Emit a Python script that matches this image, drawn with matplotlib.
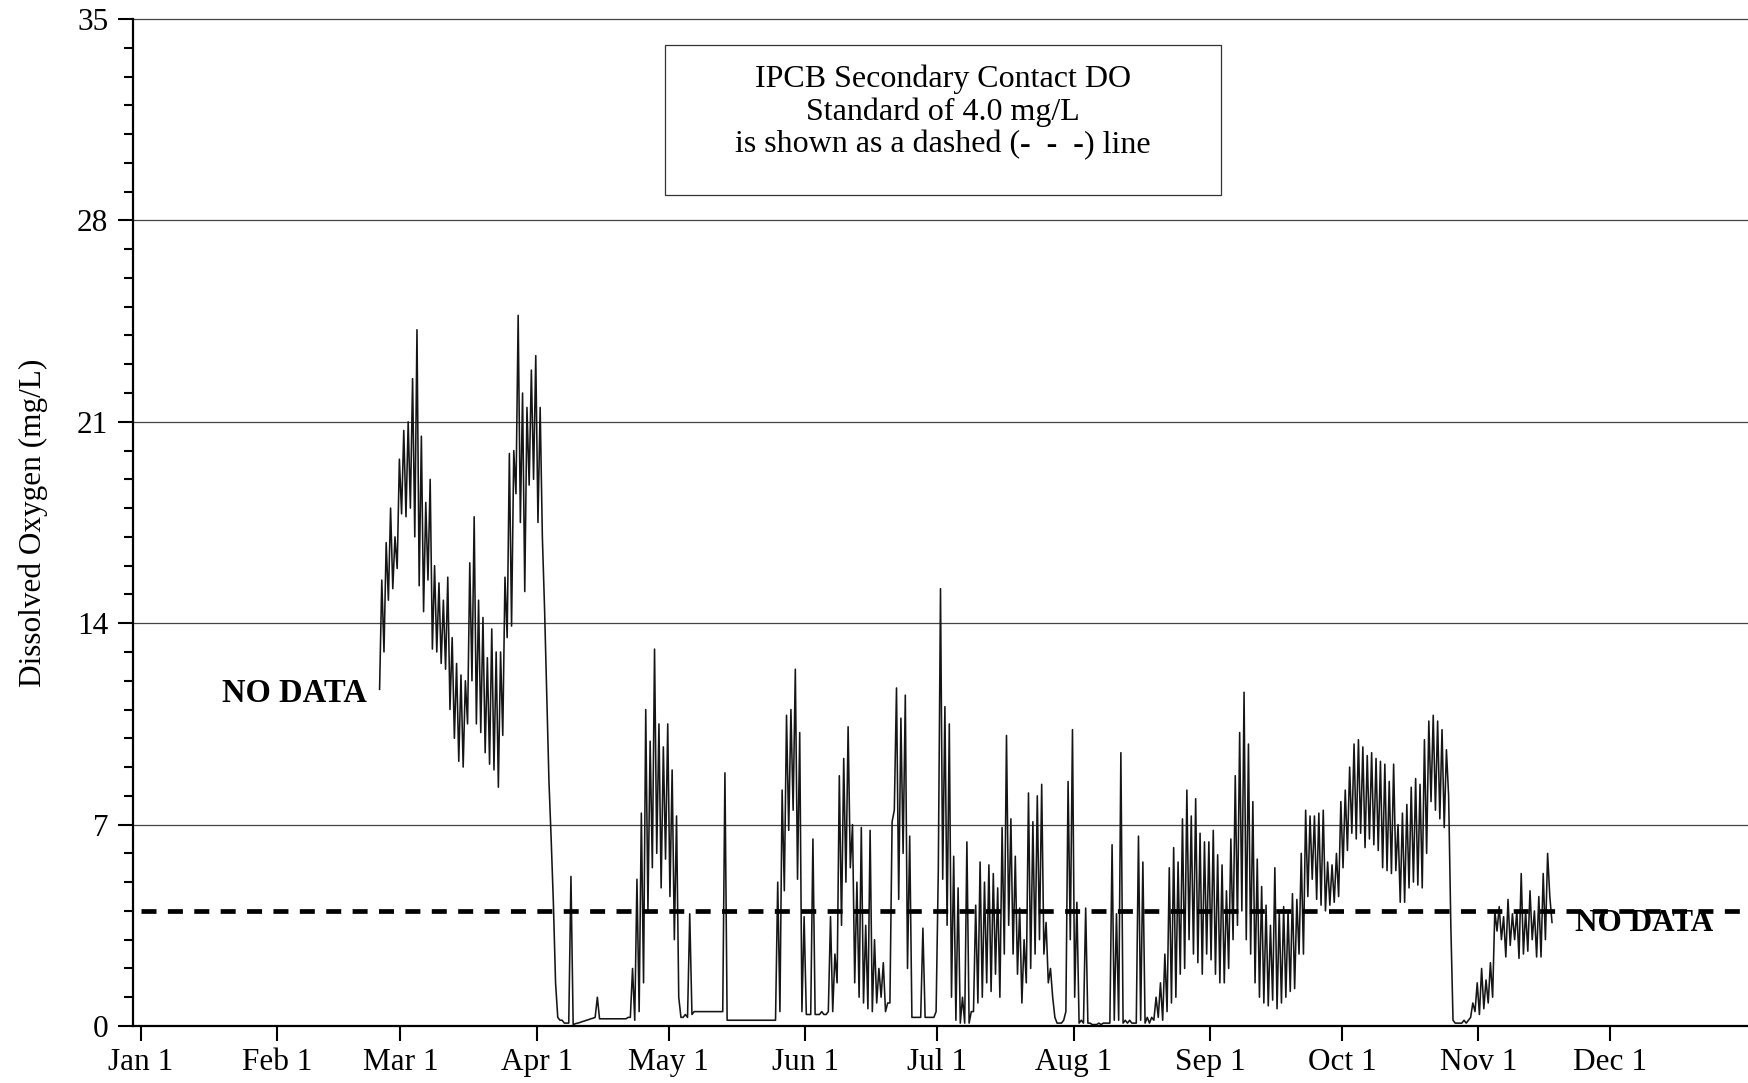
import numpy as np
import matplotlib
matplotlib.use("Agg")
import matplotlib.pyplot as plt
from matplotlib.ticker import MultipleLocator
from matplotlib.patches import Rectangle
from matplotlib.offsetbox import TextArea, HPacker, AnnotationBbox

# ---------------- data (days counted from Jan 1 = 0) ----------------
first_day = 54  # Feb 24: first day with data

# early-morning (low) and afternoon (high) dissolved oxygen readings, mg/L, one pair per day
do_am = [
    # Feb 24-28
    11.7, 13.0, 14.8, 15.2, 15.9,
    # Mar
    17.8, 17.7, 18.0, 17.0, 15.3, 14.4, 15.5, 13.1, 13.0, 12.6, 12.4, 11.0, 10.0, 9.2, 9.0, 10.5,
    12.0, 10.5, 10.2, 9.5, 9.1, 8.9, 8.3, 10.1, 13.5, 13.9, 18.5, 17.5, 15.1, 18.8, 19.0,
    # Apr
    17.5, 17.0, 11.5, 6.5, 1.5, 0.2, 0.1, 0.1, 0.05, 0.1, 0.15, 0.2, 0.25, 0.3, 0.25,
    0.25, 0.25, 0.25, 0.25, 0.25, 0.25, 0.3, 0.2, 0.5, 1.5, 4.0, 5.5, 6.0, 4.8, 5.8,
    # May
    4.5, 3.0, 1.0, 0.3, 0.3, 0.4, 0.5, 0.5, 0.5, 0.5, 0.5, 0.5, 0.5, 0.2, 0.2, 0.2,
    0.2, 0.2, 0.2, 0.2, 0.2, 0.2, 0.2, 0.2, 0.2, 0.5, 4.7, 6.8, 7.5, 5.1, 0.5,
    # Jun
    0.4, 0.4, 0.4, 0.4, 0.4, 0.5, 0.5, 1.5, 3.5, 5.0, 5.5, 1.5, 1.0, 0.8, 0.6,
    0.5, 0.8, 1.0, 0.5, 0.8, 7.5, 4.4, 6.0, 2.0, 0.3, 0.3, 0.3, 0.3, 0.3, 0.3,
    # Jul
    5.4, 5.1, 3.5, 1.0, 0.2, 0.1, 0.1, 0.1, 0.5, 0.8, 1.0, 1.5, 1.2, 1.8, 1.0, 2.5,
    3.5, 2.5, 1.8, 0.8, 1.5, 2.0, 2.5, 3.0, 2.5, 1.5, 1.0, 0.1, 0.1, 0.5, 3.0,
    # Aug
    1.0, 0.1, 0.1, 0.1, 0.05, 0.05, 0.05, 0.1, 0.1, 0.2, 0.2, 0.1, 0.1, 0.1, 0.1, 0.2,
    0.1, 0.1, 0.2, 0.3, 0.2, 0.5, 0.8, 1.0, 1.8, 2.0, 3.0, 2.5, 2.2, 1.8, 2.5,
    # Sep
    2.3, 1.8, 1.5, 1.5, 2.0, 3.0, 3.5, 4.0, 3.0, 2.5, 1.5, 1.0, 0.8, 0.7, 0.9,
    0.6, 0.8, 1.0, 1.2, 1.3, 2.5, 2.5, 4.5, 5.1, 4.4, 4.2, 4.0, 4.2, 4.3, 4.5,
    # Oct
    5.5, 6.1, 6.7, 6.5, 6.7, 6.2, 6.5, 6.3, 6.1, 5.5, 5.4, 5.3, 5.4, 4.3, 4.3, 4.8,
    5.0, 4.9, 4.8, 6.0, 7.8, 7.5, 7.2, 6.9, 8.0, 0.2, 0.1, 0.1, 0.1, 0.3, 0.5,
    # Nov 1-17
    0.4, 0.6, 0.8, 1.0, 3.3, 3.0, 2.4, 2.8, 3.0, 2.35, 2.5, 2.6, 3.0, 2.4, 2.4, 3.0, 4.5,
]
do_pm = [
    # Feb 24-28
    15.5, 16.8, 18.0, 17.0, 19.7,
    # Mar
    20.7, 21.0, 22.5, 24.2, 20.5, 18.2, 19.0, 16.0, 15.4, 14.8, 15.6, 13.5, 12.6, 12.2, 12.0, 16.1,
    17.7, 14.8, 14.2, 12.8, 13.8, 13.0, 13.0, 15.6, 19.9, 20.0, 24.7, 22.0, 21.5, 22.8, 23.3,
    # Apr
    21.5, 14.5, 8.5, 4.3, 0.3, 0.2, 0.1, 5.2, 0.08, 0.12, 0.17, 0.22, 0.27, 1.0, 0.25,
    0.25, 0.25, 0.25, 0.25, 0.25, 0.3, 2.0, 5.1, 7.4, 11.0, 9.9, 13.1, 10.5, 9.7, 10.5,
    # May
    8.9, 7.3, 0.3, 0.4, 3.9, 0.5, 0.5, 0.5, 0.5, 0.5, 0.5, 0.5, 8.8, 0.2, 0.2, 0.2,
    0.2, 0.2, 0.2, 0.2, 0.2, 0.2, 0.2, 0.2, 5.0, 8.2, 10.8, 11.0, 12.4, 10.2, 3.8,
    # Jun
    0.4, 6.5, 0.4, 0.5, 0.4, 3.8, 2.5, 8.7, 9.3, 10.4, 7.0, 5.0, 6.9, 3.5, 6.8,
    3.0, 2.0, 2.2, 0.8, 7.1, 11.75, 10.7, 11.5, 6.6, 0.3, 0.3, 3.4, 0.3, 0.3, 0.5,
    # Jul
    15.2, 11.1, 10.5, 5.9, 4.8, 1.0, 6.4, 0.5, 4.2, 5.7, 5.0, 5.6, 5.3, 4.8, 6.9, 10.1,
    7.2, 5.9, 4.1, 3.0, 8.1, 7.1, 8.0, 8.4, 3.6, 2.0, 0.3, 0.1, 0.2, 8.5, 10.3,
    # Aug
    4.3, 0.2, 4.1, 0.1, 0.05, 0.1, 0.1, 0.1, 6.3, 3.9, 9.5, 0.2, 0.2, 0.1, 6.6, 5.7,
    0.3, 0.3, 1.0, 1.5, 2.5, 5.5, 6.2, 5.7, 7.2, 8.2, 7.3, 7.9, 6.7, 6.4, 6.4,
    # Sep
    6.8, 5.95, 5.6, 4.7, 6.5, 8.7, 10.2, 11.6, 9.8, 7.8, 5.8, 4.85, 4.2, 3.5, 5.5,
    4.0, 4.15, 4.0, 4.6, 4.4, 6.0, 7.5, 7.3, 7.3, 7.4, 7.5, 5.7, 5.6, 6.0, 7.8,
    # Oct
    8.2, 9.0, 9.8, 9.95, 9.7, 9.4, 9.5, 9.3, 9.2, 9.1, 8.5, 9.1, 7.0, 7.4, 7.7, 8.3,
    8.6, 8.4, 9.95, 10.6, 10.8, 10.6, 10.3, 9.6, 3.5, 0.1, 0.1, 0.2, 0.2, 0.8, 1.5,
    # Nov 1-17
    2.0, 1.6, 2.2, 4.0, 4.15, 3.8, 4.4, 3.9, 4.0, 5.3, 4.0, 4.7, 4.0, 4.5, 5.3, 6.0, 3.6,
]

month_days = [0, 31, 59, 90, 120, 151, 181, 212, 243, 273, 304, 334]
month_labels = ["Jan 1", "Feb 1", "Mar 1", "Apr 1", "May 1", "Jun 1",
                "Jul 1", "Aug 1", "Sep 1", "Oct 1", "Nov 1", "Dec 1"]
y_ticks = [0, 7, 14, 21, 28, 35]
standard_do = 4.0
box_lines = ["IPCB Secondary Contact DO", "Standard of 4.0 mg/L"]

# ---------------- style ----------------
plt.rcParams['font.family'] = ['Liberation Serif', 'DejaVu Serif']
plt.rcParams['lines.scale_dashes'] = False
FS = 22.5
FS_BOX = 23
FS_ND = 23.5

W, H = 1748, 1083
fig = plt.figure(figsize=(W / 100, H / 100), dpi=100)
ax = fig.add_axes([133 / W, 1 - 1026 / H, 1 - 133 / W, (1026 - 19) / H])

am = np.asarray(do_am, dtype=float)
pm = np.asarray(do_pm, dtype=float)
days = first_day + np.arange(len(am))
t = np.column_stack([days + 0.25, days + 0.75]).ravel()
v = np.column_stack([am, pm]).ravel()

# grid lines
for yv in y_ticks[1:]:
    ax.axhline(yv, color='#444444', lw=0.9, zorder=1, clip_on=False)

ax.plot(t, v, color='#151515', lw=1.15, zorder=3)

# 4.0 mg/L standard
ax.plot([0, 366], [standard_do, standard_do], color='black', lw=3.4,
        dashes=(10.8, 8.2), dash_capstyle='butt', zorder=4)

ax.set_xlim(-1.8, 365.3)
ax.set_ylim(0, 35)
ax.set_yticks(y_ticks)
ax.set_yticklabels([str(y) for y in y_ticks])
ax.yaxis.set_minor_locator(MultipleLocator(1))
ax.set_xticks(month_days)
ax.set_xticklabels(month_labels)

for s in ['top', 'right']:
    ax.spines[s].set_visible(False)
for s in ['left', 'bottom']:
    ax.spines[s].set_linewidth(1.6)
    ax.spines[s].set_zorder(5)

ax.tick_params(axis='both', which='major', direction='out', length=10.8,
               width=1.5, labelsize=FS, colors='black')
ax.tick_params(axis='y', which='major', pad=7)
ax.tick_params(axis='x', which='major', pad=5)
ax.tick_params(axis='y', which='minor', direction='out', length=6.5, width=1.5)

fig.text(33 / W, 1 - 523 / H, "Dissolved Oxygen (mg/L)", rotation=90,
         ha='center', va='center', fontsize=FS)

# NO DATA labels
ax.text(35, 11.55, "NO DATA", fontsize=FS_ND, fontweight='bold', ha='center', va='center', zorder=6)
ax.text(341.6, 3.57, "NO DATA", fontsize=FS, fontweight='bold', ha='center', va='center', zorder=6)

# annotation box
ax.add_patch(Rectangle((119.1, 28.9), 245.4 - 119.1, 34.1 - 28.9, fill=False,
                       ec='#333333', lw=0.9, zorder=2))
ax.text(182.3, 32.92, box_lines[0], fontsize=FS_BOX, ha='center', va='center')
ax.text(182.3, 31.77, box_lines[1], fontsize=FS_BOX, ha='center', va='center')
line3 = HPacker(children=[
    TextArea("is shown as a dashed (", textprops=dict(fontsize=FS_BOX)),
    TextArea("-  -  -", textprops=dict(fontsize=FS_BOX, fontweight='bold')),
    TextArea(") line", textprops=dict(fontsize=FS_BOX)),
], align='baseline', pad=0, sep=0)
ab = AnnotationBbox(line3, (182.3, 30.62), xycoords='data', frameon=False,
                    box_alignment=(0.5, 0.5), pad=0)
ax.add_artist(ab)

fig.savefig("out.png", dpi=100)
